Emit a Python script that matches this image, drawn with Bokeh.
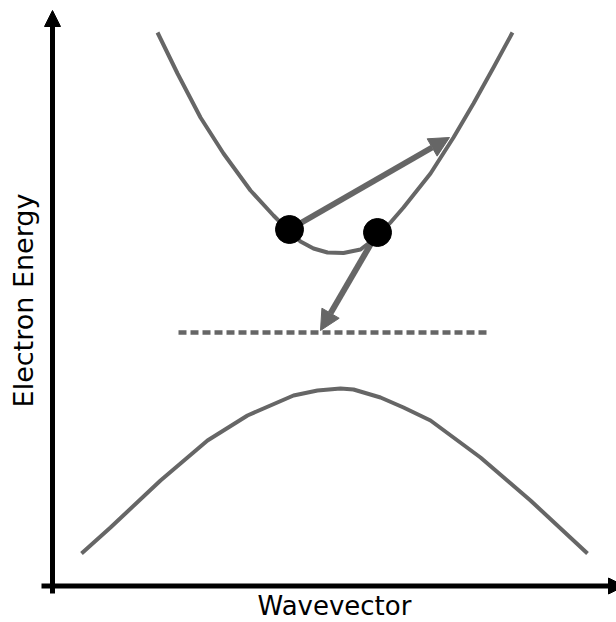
from bokeh.plotting import figure
from bokeh.models import Range1d, Arrow, NormalHead
from bokeh.core.properties import value
from bokeh.embed import file_html
from bokeh.resources import INLINE
import math

# Schematic band diagram
# (k: wavevector, E: electron energy, arbitrary units measured from the axes origin)
cond_k = [105, 125, 148, 171, 198, 221, 237, 248, 261, 275, 291, 308, 325, 338, 351, 378, 401, 421, 441, 460]
cond_e = [553.5, 512.5, 468.5, 432.5, 395.5, 370.5, 354.5, 344.5, 337.5, 333.5, 333.0, 336.5, 349.5, 363.5, 378.5, 412.5, 448.5, 482.5, 518.5, 553.5]

val_k = [29, 58, 108, 155, 195, 241, 265, 288, 301, 328, 351, 378, 428, 478, 535]
val_e = [32.5, 58.5, 105.5, 145.5, 170.5, 190.5, 195.5, 197.5, 196.5, 188.5, 178.5, 165.5, 128.5, 85.5, 32.5]

defect_k = [126, 438]
defect_e = [253.5, 253.5]

electron_k = [237, 325]
electron_e = [356.5, 353.5]

# scattering arrows: start (k, E) -> end (k, E)
arrow_k0 = [237, 325]
arrow_e0 = [356.5, 353.5]
arrow_k1 = [397, 268]
arrow_e1 = [448.5, 255.5]

x_label = "Wavevector"
y_label = "Electron Energy"

GRAY = "#666666"

p = figure(width=616, height=622,
           x_range=Range1d(-52, 564), y_range=Range1d(-36.5, 585.5),
           output_backend="svg", toolbar_location=None,
           x_axis_location=None, y_axis_location=None,
           min_border=0, outline_line_color=None)
p.grid.visible = False
p.background_fill_color = "white"
p.border_fill_color = "white"

p.line(cond_k, cond_e, line_color=GRAY, line_width=4, line_join="round")
p.line(val_k, val_e, line_color=GRAY, line_width=4, line_join="round")
p.line(defect_k, defect_e, line_color=GRAY, line_width=4.5, line_dash="8 4")

for k0, e0, k1, e1 in zip(arrow_k0, arrow_e0, arrow_k1, arrow_e1):
    p.add_layout(Arrow(x_start=k0, y_start=e0, x_end=k1, y_end=e1,
                       line_color=GRAY, line_width=6,
                       end=NormalHead(size=20, fill_color=GRAY, line_color=GRAY, line_width=1)))

dots = p.scatter(electron_k, electron_e, size=28, fill_color="black", line_color="black")
dots.level = "overlay"

# axes drawn as arrows
p.add_layout(Arrow(x_start=0, y_start=-7.5, x_end=0, y_end=575.5,
                   line_color="black", line_width=5,
                   end=NormalHead(size=16, fill_color="black", line_color="black", line_width=1)))
p.add_layout(Arrow(x_start=-11, y_start=0, x_end=572, y_end=0,
                   line_color="black", line_width=5,
                   end=NormalHead(size=16, fill_color="black", line_color="black", line_width=1)))

p.text(x=[282], y=[-19.5], text=[x_label], text_align="center", text_baseline="alphabetic",
       text_font=value("DejaVu Sans"), text_font_size="26px", text_color="black")
p.text(x=[-29.5], y=[285.5], text=[y_label], angle=math.pi / 2, text_align="center",
       text_baseline="alphabetic",
       text_font=value("DejaVu Sans"), text_font_size="27px", text_color="black")

open("out.html", "w").write(file_html(p, INLINE))
